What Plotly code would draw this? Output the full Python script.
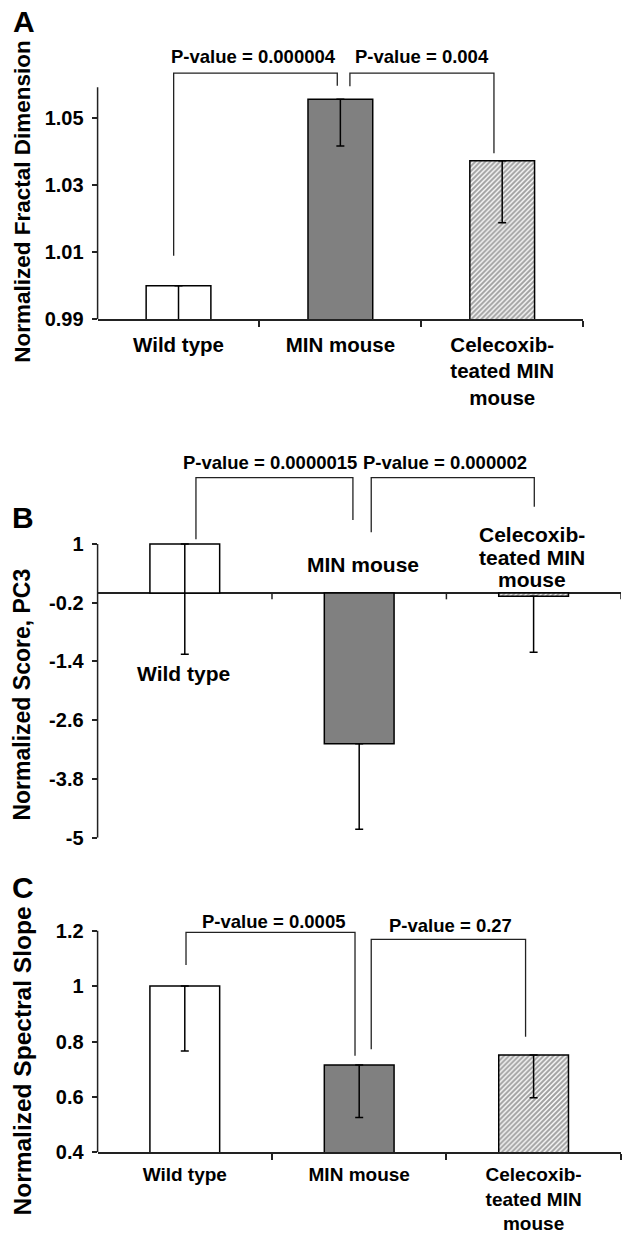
import plotly.graph_objects as go

# ---------------- data ----------------
categories = ["Wild type", "MIN mouse", "Celecoxib-<br>teated MIN<br>mouse"]
cat_x = [0, 1, 2]

fractal_values = [1.000, 1.0557, 1.0373]
fractal_err = [0.012, 0.0140, 0.0185]
fractal_ticks = [0.99, 1.01, 1.03, 1.05]
fractal_ticktext = ["0.99", "1.01", "1.03", "1.05"]

pc3_values = [1.00, -3.08, -0.07]
pc3_err = [2.25, 1.75, 1.14]
pc3_ticks = [1, -0.2, -1.4, -2.6, -3.8, -5]
pc3_ticktext = ["1", "-0.2", "-1.4", "-2.6", "-3.8", "-5"]

slope_values = [1.00, 0.715, 0.751]
slope_err = [0.234, 0.189, 0.154]
slope_ticks = [0.4, 0.6, 0.8, 1.0, 1.2]
slope_ticktext = ["0.4", "0.6", "0.8", "1", "1.2"]

pvals_A = ["P-value = 0.000004", "P-value = 0.004"]
pvals_B = ["P-value = 0.0000015", "P-value = 0.000002"]
pvals_C = ["P-value = 0.0005", "P-value = 0.27"]

# ---------------- styling / layout geometry ----------------
FONT = "Liberation Sans, Arial, Helvetica, sans-serif"
LINE = "#222222"
fills = ["white", "#808080", "white"]
patterns = ["", "", "/"]

panels = [
    dict(xa="x", ya="y", vals=fractal_values, err=fractal_err,
         ticks=fractal_ticks, ticktext=fractal_ticktext,
         xdom=[0.1569, 0.9375], ydom=[0.74146, 0.97202],
         yrange=[0.99, 1.075], axis_top=1.0593, catsize=20.5, standoff=6,
         brackets=[(-0.030, 0.981, 1.0635, 1.0090, 1.0597),
                   (1.059, 1.949, 1.0635, 1.0596, 1.0396)],
         plabels=pvals_A, ppos=[(0.466, 1.0683), (1.507, 1.0683)]),
    dict(xa="x2", ya="y2", vals=pc3_values, err=pc3_err,
         ticks=pc3_ticks, ticktext=pc3_ticktext,
         xdom=[0.1569, 0.99807], ydom=[0.32170, 0.63879],
         yrange=[-5, 3], axis_top=1.0, catsize=21, standoff=6,
         brackets=[(0.064, 0.964, 2.354, 1.096, 1.490),
                   (1.069, 2.004, 2.354, 1.239, 1.762)],
         plabels=pvals_B, ppos=[(0.487, 2.661), (1.494, 2.661)]),
    dict(xa="x3", ya="y3", vals=slope_values, err=slope_err,
         ticks=slope_ticks, ticktext=slope_ticktext,
         xdom=[0.1569, 0.99807], ydom=[0.06696, 0.26883],
         yrange=[0.4, 1.3], axis_top=1.2, catsize=19, standoff=4,
         brackets=[(0.007, 0.976, 1.194, 1.076, 0.749),
                   (1.069, 1.954, 1.169, 0.772, 0.817)],
         plabels=pvals_C, ppos=[(0.507, 1.235), (1.525, 1.218)]),
]

fig = go.Figure()
shapes = []
annotations = []

for i, p in enumerate(panels):
    fig.add_trace(go.Bar(
        x=cat_x, y=p["vals"], width=0.4,
        xaxis=p["xa"], yaxis=p["ya"],
        marker=dict(color=fills, line=dict(color="black", width=1.5),
                    pattern=dict(shape=patterns, fgcolor="#111111",
                                 bgcolor="white", size=3.5, solidity=0.6)),
        error_y=dict(type="data", symmetric=False, array=[0, 0, 0],
                     arrayminus=p["err"], color="black",
                     thickness=1.5, width=4),
        hoverinfo="skip",
    ))
    # y-axis line (only up to the top labelled extent)
    shapes.append(dict(type="line", xref=p["xa"] + " domain", yref=p["ya"],
                       x0=0, x1=0, y0=p["yrange"][0], y1=p["axis_top"],
                       line=dict(color=LINE, width=1.5)))
    # significance brackets
    for (xl, xr, yt, yl, yr) in p["brackets"]:
        shapes.append(dict(type="path", xref=p["xa"], yref=p["ya"],
                           path=f"M {xl},{yl} L {xl},{yt} L {xr},{yt} L {xr},{yr}",
                           line=dict(color=LINE, width=1.3)))
    for txt, (px, py) in zip(p["plabels"], p["ppos"]):
        annotations.append(dict(text=txt, x=px, y=py, xref=p["xa"], yref=p["ya"],
                                showarrow=False, xanchor="center", yanchor="middle",
                                font=dict(family=FONT, size=18.5, color="black",
                                          weight="bold")))

# panel B: category ticks on the zero line and free-floating labels
for xv in [0.5, 1.5, 2.5]:
    shapes.append(dict(type="line", xref="x2", yref="y2", x0=xv, x1=xv,
                       y0=0, y1=-0.13, line=dict(color=LINE, width=1.5)))
b_label_pos = [[(-0.007, -1.641)], [(1.022, 0.571)],
               [(1.988, 1.184), (1.988, 0.734), (1.988, 0.265)]]
for txt, pos in zip(categories, b_label_pos):
    for line_txt, (px, py) in zip(txt.split("<br>"), pos):
        annotations.append(dict(text=line_txt, x=px, y=py, xref="x2", yref="y2",
                                showarrow=False, xanchor="center", yanchor="middle",
                                font=dict(family=FONT, size=21, color="black",
                                          weight="bold")))

# panel letters and y titles
letters = ["A", "B", "C"]
letter_pos = [(0.0386, 0.9822), (0.0362, 0.5806), (0.0362, 0.2810)]
for t, (px, py) in zip(letters, letter_pos):
    annotations.append(dict(text=t, x=px, y=py, xref="paper", yref="paper",
                            showarrow=False, xanchor="center", yanchor="middle",
                            font=dict(family=FONT, size=30, color="black",
                                      weight="bold")))
ytitles = ["Normalized Fractal Dimension", "Normalized Score, PC3",
           "Normalized Spectral Slope"]
ytitle_pos = [(0.0362, 0.8370, 22.5), (0.0362, 0.4372, 23), (0.0362, 0.1409, 24.5)]
for t, (px, py, fs) in zip(ytitles, ytitle_pos):
    annotations.append(dict(text=t, x=px, y=py, xref="paper", yref="paper",
                            showarrow=False, xanchor="center", yanchor="middle",
                            textangle=-90,
                            font=dict(family=FONT, size=fs, color="black",
                                      weight="bold")))

tickfont = dict(family=FONT, size=20, color="black", weight="bold")
layout = dict(
    width=622, height=1235, margin=dict(l=0, r=0, t=0, b=0, pad=0),
    paper_bgcolor="white", plot_bgcolor="white", showlegend=False,
    shapes=shapes, annotations=annotations,
)
for i, p in enumerate(panels):
    xk = "xaxis" if i == 0 else f"xaxis{i+1}"
    yk = "yaxis" if i == 0 else f"yaxis{i+1}"
    is_b = (i == 1)
    layout[xk] = dict(
        domain=p["xdom"], range=[-0.5, 2.5], anchor=p["ya"],
        showline=not is_b, linecolor=LINE, linewidth=1.5,
        tickmode="array", tickvals=cat_x, ticktext=categories,
        showticklabels=not is_b, ticks="", ticklabelstandoff=p["standoff"],
        tickfont=dict(family=FONT, size=p["catsize"], color="black", weight="bold"),
        minor=dict(tickmode="array", tickvals=[0.5, 1.5, 2.5],
                   ticks="" if is_b else "outside", ticklen=6,
                   tickwidth=1.5, tickcolor=LINE, showgrid=False),
        showgrid=False, zeroline=False, fixedrange=True, automargin=False,
    )
    layout[yk] = dict(
        domain=p["ydom"], range=p["yrange"], anchor=p["xa"],
        showline=False, tickmode="array", tickvals=p["ticks"],
        ticktext=p["ticktext"], ticks="outside", ticklen=5, tickwidth=1.5,
        tickcolor=LINE, ticklabelstandoff=4, tickfont=tickfont,
        showgrid=False, zeroline=is_b, zerolinecolor=LINE, zerolinewidth=1.5,
        fixedrange=True, automargin=False,
    )

fig.update_layout(**layout)
fig.write_html(
    "out.html",
    config={"displayModeBar": False},
    post_script=("document.body.style.margin='0';"
                 "document.body.style.padding='0';"
                 "document.documentElement.style.overflow='hidden';"),
)
